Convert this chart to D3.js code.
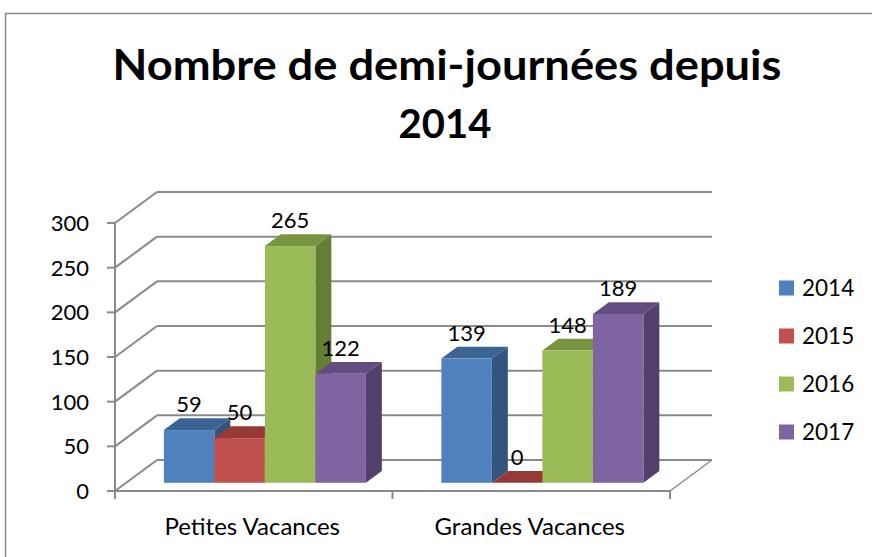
<!DOCTYPE html>
<html><head><meta charset="utf-8">
<script src="https://cdn.jsdelivr.net/npm/d3@7"></script>
<style>html,body{margin:0;padding:0;background:#fff;}svg{display:block;}</style>
</head><body>
<svg id="c" width="872" height="557"></svg>
<script>
const categories = ["Petites Vacances", "Grandes Vacances"];
const seriesNames = ["2014", "2015", "2016", "2017"];
const values2014 = [59, 139];
const values2015 = [50, 0];
const values2016 = [265, 148];
const values2017 = [122, 189];
const yTicks = [0, 50, 100, 150, 200, 250, 300];
const titleLines = ["Nombre de demi-journées depuis", "2014"];

const seriesValues = [values2014, values2015, values2016, values2017];
const frontCol = ["#4F81BD", "#C0504D", "#9BBB59", "#8064A2"];
const topCol   = ["#3B6394", "#973A37", "#789440", "#634D80"];
const sideCol  = ["#32547D", "#7E302E", "#657D35", "#533F6B"];

const svg = d3.select("#c");
const FONT = "Lato, 'Open Sans', sans-serif";
const grid = "#8a8a8a";

// frame
svg.append("rect").attr("x",5.5).attr("y",13.5).attr("width",900).attr("height",600)
  .attr("fill","#fff").attr("stroke","#8c8c8c").attr("stroke-width",1.5);

// geometry
const x0 = 115, x1 = 670;
const y = d3.scaleLinear().domain([0,300]).range([491,223]);
const x = d3.scaleBand().domain(categories).range([x0,x1]);
const DX = 42, DY = -31; // full depth offset
const dFront = 0.265, dBack = 0.645;
const groupW = 202;
const xs = d3.scaleBand().domain(seriesNames).range([0, groupW]);

const g = svg.append("g");
yTicks.forEach(t => {
  g.append("line").attr("x1",x0).attr("y1",y(t)).attr("x2",x0+DX).attr("y2",y(t)+DY)
    .attr("stroke",grid).attr("stroke-width",2);
  g.append("line").attr("x1",x0+DX).attr("y1",y(t)+DY).attr("x2",x1+DX).attr("y2",y(t)+DY)
    .attr("stroke",grid).attr("stroke-width",2);
});
g.append("line").attr("x1",x1).attr("y1",y(0)).attr("x2",x1+DX).attr("y2",y(0)+DY)
  .attr("stroke",grid).attr("stroke-width",1.5);
g.append("line").attr("x1",x0).attr("y1",y(300)).attr("x2",x0).attr("y2",y(0)+1)
  .attr("stroke",grid).attr("stroke-width",2);
g.append("line").attr("x1",x0-1).attr("y1",y(0)).attr("x2",x1).attr("y2",y(0))
  .attr("stroke",grid).attr("stroke-width",2);
yTicks.forEach(t => {
  g.append("line").attr("x1",x0-8).attr("y1",y(t)).attr("x2",x0).attr("y2",y(t))
    .attr("stroke",grid).attr("stroke-width",2);
  g.append("text").attr("x",89).attr("y",y(t)+8).attr("text-anchor","end")
    .attr("font-family",FONT).attr("font-size",22).attr("fill","#000").text(t);
});
[x0, x0 + x.bandwidth(), x1].forEach(px => {
  g.append("line").attr("x1",px).attr("y1",y(0)).attr("x2",px).attr("y2",y(0)+8)
    .attr("stroke",grid).attr("stroke-width",2);
});
categories.forEach(c => {
  g.append("text").attr("x",x(c)+x.bandwidth()/2 - 1.5).attr("y",535).attr("text-anchor","middle")
    .attr("font-family",FONT).attr("font-size",24).attr("fill","#000").text(c);
});

// bars
const fx = dFront*DX, fy = dFront*DY;
const bdx = (dBack-dFront)*DX, bdy = (dBack-dFront)*DY;
const bars = svg.append("g");
const labels = [];
categories.forEach((c, ci) => {
  const gx = x(c) + x.bandwidth()/2 - groupW/2 + fx;
  seriesNames.forEach((s, si) => {
    const v = seriesValues[si][ci];
    const L = gx + xs(s), R = L + xs.bandwidth();
    const B = y(0) + fy, T = y(v) + fy;
    const pts = a => a.map(p => p.join(",")).join(" ");
    bars.append("polygon").attr("points", pts([[R,T],[R+bdx,T+bdy],[R+bdx,B+bdy],[R,B]])).attr("fill",sideCol[si]);
    bars.append("polygon").attr("points", pts([[L,T],[R,T],[R+bdx,T+bdy],[L+bdx,T+bdy]])).attr("fill",topCol[si]);
    if (v > 0) bars.append("rect").attr("x",L).attr("y",T).attr("width",R-L).attr("height",B-T).attr("fill",frontCol[si]);
    labels.push({x:(L+R)/2, y:T+bdy-6, v});
  });
});
labels.forEach(l => {
  svg.append("text").attr("x",l.x).attr("y",l.y).attr("text-anchor","middle")
    .attr("font-family",FONT).attr("font-size",22).attr("fill","#000").text(l.v);
});

// legend
seriesNames.forEach((s, i) => {
  const cy = 288 + i*48;
  svg.append("rect").attr("x",779).attr("y",cy-7.5).attr("width",15).attr("height",15).attr("fill",frontCol[i]);
  svg.append("text").attr("x",802).attr("y",cy+8).attr("font-family",FONT).attr("font-size",22.5)
    .attr("fill","#000").text(s);
});

// title
svg.append("text").attr("x",447).attr("y",80).attr("text-anchor","middle")
  .attr("font-family",FONT).attr("font-weight","bold").attr("font-size",42)
  .attr("textLength",669).attr("lengthAdjust","spacingAndGlyphs").attr("fill","#000").text(titleLines[0]);
svg.append("text").attr("x",445).attr("y",138).attr("text-anchor","middle")
  .attr("font-family",FONT).attr("font-weight","bold").attr("font-size",40).attr("fill","#000").text(titleLines[1]);
</script>
</body></html>
